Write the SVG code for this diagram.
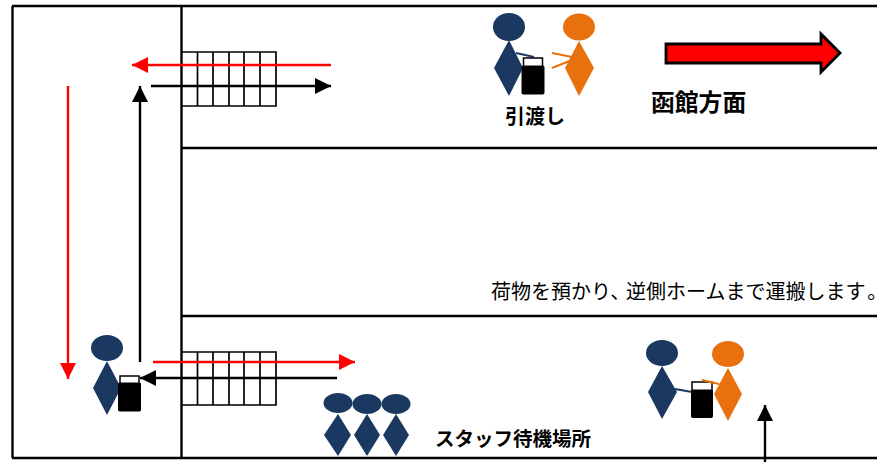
<svg xmlns="http://www.w3.org/2000/svg" width="877" height="462" viewBox="0 0 877 462">
<style>
.wall{stroke:#000;stroke-width:2.4;fill:none}
.grid{stroke:#000;stroke-width:1.7;fill:none}
.navy{fill:#1a3860}
.orange{fill:#e8710e}
.narm{stroke:#1a3860;stroke-width:2;fill:none}
.oarm{stroke:#e8710e;stroke-width:2;fill:none}
.bag{fill:#000;stroke:#000;stroke-width:1}
.handle{fill:#fff;stroke:#000;stroke-width:1.5}
.blk{stroke:#000;stroke-width:2.400;fill:none}
.red{stroke:#f00;stroke-width:2.400;fill:none}
text{font-family:"Liberation Sans","Noto Sans CJK JP",sans-serif;fill:#000}
.b{font-weight:bold}
.p{font-feature-settings:"palt"}
</style>
<defs>
<marker id="ab" markerUnits="userSpaceOnUse" markerWidth="16" markerHeight="16" refX="16" refY="8" orient="auto"><path d="M0 0L16 8L0 16Z" fill="#000"/></marker>
<marker id="ar" markerUnits="userSpaceOnUse" markerWidth="16" markerHeight="16" refX="16" refY="8" orient="auto"><path d="M0 0L16 8L0 16Z" fill="#f00"/></marker>
</defs>
<g id="building">
<path class="wall" d="M12 6H877M12 458H877M12.500 6V458M181.500 6V458M181 148H877M181 316H877"/>
</g>
<g id="stairs-top">
<path class="grid" d="M182 52H276V106H182M182 86H276M197.500 52V106M213 52V106M229 52V106M244 52V106M260 52V106"/>
</g>
<g id="stairs-bottom">
<path class="grid" d="M182 352H276V405H182M182 378H276M197.500 352V405M213 352V405M229 352V405M244 352V405M260 352V405"/>
</g>
<g id="connectors">
<line class="red" x1="331" y1="65" x2="132" y2="65" marker-end="url(#ar)"/>
<line class="blk" x1="151" y1="86" x2="331" y2="86" marker-end="url(#ab)"/>
<line class="blk" x1="140" y1="362" x2="140" y2="86" marker-end="url(#ab)"/>
<line class="red" x1="68" y1="86" x2="68" y2="379" marker-end="url(#ar)"/>
<line class="red" x1="153" y1="362" x2="355" y2="362" marker-end="url(#ar)"/>
<line class="blk" x1="337" y1="378" x2="140" y2="378" marker-end="url(#ab)"/>
<line class="blk" x1="765" y1="462" x2="765" y2="405" marker-end="url(#ab)"/>
</g>
<g id="direction-arrow">
<path d="M666 44H821V34L840 53L821 72V63H666Z" fill="#f00" stroke="#000" stroke-width="2.800"/>
</g>
<g id="handover-top">
<ellipse class="navy" cx="509" cy="27" rx="16" ry="14"/>
<path class="navy" d="M509 40L523 68L509 96L494 68Z"/>
<path class="narm" d="M516 53L534 57"/>
<rect class="handle" x="523.500" y="58" width="19" height="9"/>
<rect class="bag" x="522" y="66" width="22" height="28" rx="1"/>
<ellipse class="orange" cx="579" cy="27" rx="16" ry="13.500"/>
<path class="orange" d="M579 41L594 68L579 96L565 68Z"/>
<path class="oarm" d="M552 53L572 57M552 68L572 60"/>
</g>
<g id="handover-bottom">
<ellipse class="navy" cx="662" cy="353" rx="16" ry="13"/>
<path class="navy" d="M662 366L677 392L662 419L648 392Z"/>
<path class="narm" d="M675 389L692 392"/>
<rect class="handle" x="692" y="382" width="20" height="9"/>
<rect class="bag" x="691.500" y="390" width="21" height="27.500" rx="1"/>
<ellipse class="orange" cx="728" cy="354" rx="16" ry="13"/>
<path class="orange" d="M728 368L742 394L728 421L714 394Z"/>
<path class="oarm" d="M702 380L719 384"/>
</g>
<g id="staff-left">
<ellipse class="navy" cx="107" cy="348" rx="16" ry="13"/>
<path class="navy" d="M107 361L121 388L107 415L93 388Z"/>
<rect class="handle" x="120" y="376" width="19" height="8"/>
<rect class="bag" x="118.500" y="383" width="22" height="28" rx="1"/>
</g>
<g id="staff-waiting">
<ellipse class="navy" cx="338" cy="403" rx="14.500" ry="10"/>
<path class="navy" d="M338 414L351 435L338 456L324 435Z"/>
<ellipse class="navy" cx="367" cy="404" rx="14.500" ry="10"/>
<path class="navy" d="M367 414L380 435L367 456L354 435Z"/>
<ellipse class="navy" cx="396" cy="404" rx="14.500" ry="10"/>
<path class="navy" d="M396 414L409 435L396 456L383 435Z"/>
</g>
<g id="labels">
<text class="b" x="505" y="124" font-size="20">引渡し</text>
<text class="b" x="651" y="111" font-size="23.800">函館方面</text>
<text x="491" y="299" font-size="20">荷物を預かり、<tspan x="626">逆側ホームまで運搬します</tspan><tspan class="p" x="867">。</tspan></text>
<text class="b" x="435" y="446" font-size="19.500">スタッフ待機場所</text>
</g>
</svg>
